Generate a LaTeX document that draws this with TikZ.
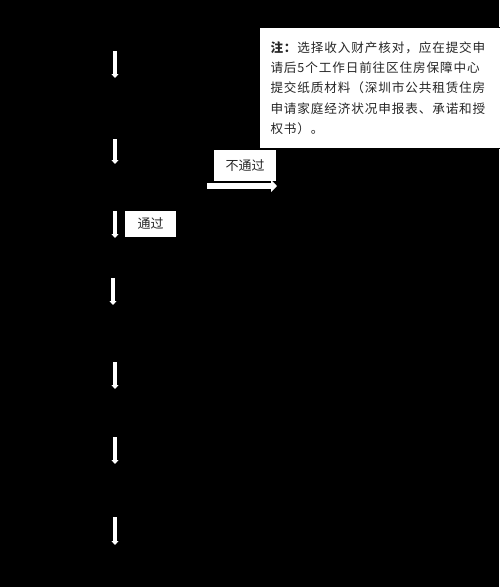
\documentclass[tikz,border=0pt]{standalone}
\usepackage{fontspec}
\newfontfamily\cjk{Noto Sans CJK SC}
\newfontfamily\cjknote[LetterSpace=7]{Noto Sans CJK SC}
\usepackage{xcolor}
\usetikzlibrary{positioning,arrows.meta}

\begin{document}
\begin{tikzpicture}[x=1pt, y=-1pt,
    flow/.style={-{Triangle[length=4pt, width=7pt]}, white, line width=3.5pt},
    wide/.style={-{Triangle[length=6pt, width=12pt]}, white, line width=5.5pt},
    tag/.style={fill=white, text=black!85, font=\cjk\fontsize{13}{15}\selectfont, inner sep=0pt},
    note/.style={draw=black, line width=1pt, fill=white, text=black!85, font=\cjknote\fontsize{12.6}{20.2}\selectfont, align=left, anchor=north west, inner xsep=11pt, inner ysep=3pt},
]

% --- Background ---
\useasboundingbox (0,0) rectangle (499,587);
\fill[black] (0,0) rectangle (499,587);

% --- Note box ---
\node[note, minimum width=240pt, minimum height=121pt, text width=226pt] (remark) at (259,27)
{\textbf{注：}选择收入财产核对，应在提交申\\请后5个工作日前往区住房保障中心\\提交纸质材料（深圳市公共租赁住房\\申请家庭经济状况申报表、承诺和授\\权书）。};

% --- Branch labels ---
\node[tag, minimum width=62pt, minimum height=31pt] (fail) at (245,165.5) {不通过};
\node[tag, minimum width=51pt, minimum height=26pt] (pass) at (150.5,224) {通过};

% --- Arrow ends ---
\coordinate (s1) at (115,51);  \coordinate (e1) at (115,78);
\coordinate (s2) at (115,139); \coordinate (e2) at (115,164);
\coordinate (s3) at (115,211); \coordinate (e3) at (115,238);
\coordinate (s4) at (113,278); \coordinate (e4) at (113,305);
\coordinate (s5) at (115,362); \coordinate (e5) at (115,389);
\coordinate (s6) at (115,437); \coordinate (e6) at (115,464);
\coordinate (s7) at (115,517); \coordinate (e7) at (115,545);
\coordinate (f1) at (207,186); \coordinate (f2) at (277,186);

% --- Arrows ---
\draw[flow] (s1) -- (e1);
\draw[flow] (s2) -- (e2);
\draw[flow] (s3) -- (e3);
\draw[flow] (s4) -- (e4);
\draw[flow] (s5) -- (e5);
\draw[flow] (s6) -- (e6);
\draw[flow] (s7) -- (e7);
\draw[wide] (f1) -- (f2);

\end{tikzpicture}
\end{document}
